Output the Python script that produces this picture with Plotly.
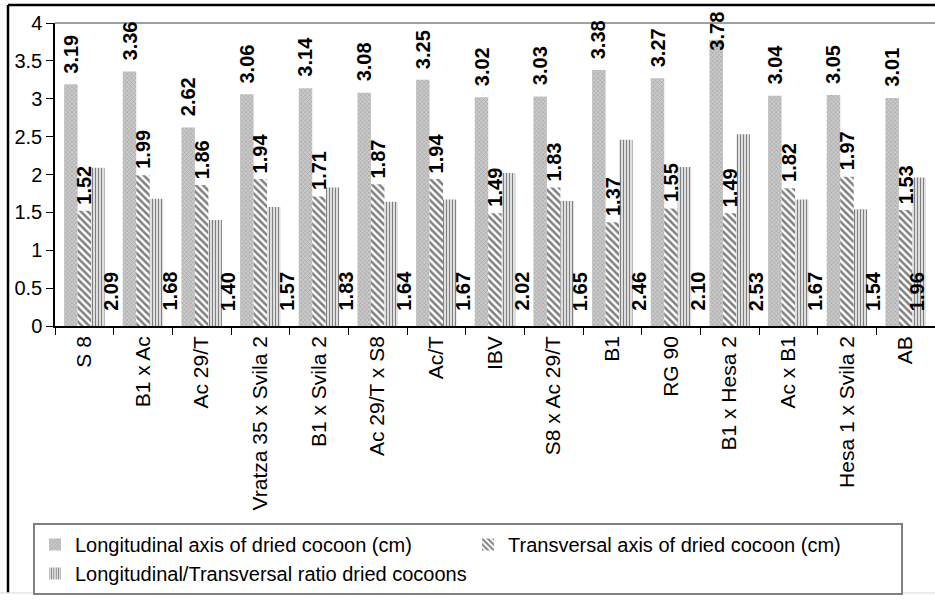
import plotly.graph_objects as go

# Cocoon measurements per breed / hybrid
categories = ["S 8", "B1 x Ac", "Ac 29/T", "Vratza 35 x Svila 2", "B1 x Svila 2",
              "Ac 29/T x S8", "Ac/T", "IBV", "S8 x Ac 29/T", "B1", "RG 90",
              "B1 x Hesa 2", "Ac x B1", "Hesa 1 x Svila 2", "AB"]
longitudinal = [3.19, 3.36, 2.62, 3.06, 3.14, 3.08, 3.25, 3.02, 3.03, 3.38, 3.27,
                3.78, 3.04, 3.05, 3.01]
transversal = [1.52, 1.99, 1.86, 1.94, 1.71, 1.87, 1.94, 1.49, 1.83, 1.37, 1.55,
               1.49, 1.82, 1.97, 1.53]
ratio = [2.09, 1.68, 1.40, 1.57, 1.83, 1.64, 1.67, 2.02, 1.65, 2.46, 2.10,
         2.53, 1.67, 1.54, 1.96]

names = ["Longitudinal axis of dried cocoon (cm)",
         "Transversal axis of dried cocoon (cm)",
         "Longitudinal/Transversal ratio dried cocoons"]
y_ticks = [0, 0.5, 1, 1.5, 2, 2.5, 3, 3.5, 4]

W, H = 935, 601
ML, MR, MT, MB = 55, 0, 23, 275
PW, PH = W - ML - MR, H - MT - MB
Y_MAX = 4
FONT = "Arial, Liberation Sans, sans-serif"


def px_x(px):
    return (px - ML) / PW


def px_y(py):
    return (H - MB - py) / PH


def bar_top_px(v):
    return H - MB - v / Y_MAX * PH


fig = go.Figure()
fig.add_trace(go.Bar(
    x=categories, y=longitudinal, name=names[0],
    marker=dict(color="#b0b0b0", line=dict(width=0),
                pattern=dict(shape="x", fgcolor="#7a7a7a", bgcolor="#cacaca",
                             size=3, solidity=0.35)),
))
fig.add_trace(go.Bar(
    x=categories, y=transversal, name=names[1],
    marker=dict(color="white", line=dict(width=0),
                pattern=dict(shape="\\", fgcolor="black", bgcolor="white",
                             size=5, solidity=0.5)),
))
fig.add_trace(go.Bar(
    x=categories, y=ratio, name=names[2],
    marker=dict(color="white", line=dict(width=0),
                pattern=dict(shape="|", fgcolor="black", bgcolor="white",
                             size=3, solidity=0.5)),
))

# value labels, rotated to read upwards
label_font = dict(family=FONT, size=20, color="black")
LABEL_LEN = 42
annotations = []
for cat, v in zip(categories, longitudinal):
    ann = dict(x=cat, y=v, text=f"<b>{v:.2f}</b>", textangle=-90,
               xref="x", yref="y", showarrow=False, font=label_font,
               xanchor="center", yanchor="bottom", xshift=-13.5, yshift=9)
    # keep the label inside the chart when the bar is close to the top
    if bar_top_px(v) - 9 - LABEL_LEN < 10:
        ann.update(yref="paper", y=px_y(10), yanchor="top", yshift=0)
    annotations.append(ann)
for cat, v in zip(categories, transversal):
    annotations.append(dict(x=cat, y=v, text=f"<b>{v:.2f}</b>", textangle=-90,
                            xref="x", yref="y", showarrow=False, font=label_font,
                            xanchor="center", yanchor="bottom",
                            xshift=0, yshift=4))
for i, (cat, v) in enumerate(zip(categories, ratio)):
    shift = 11 if i == len(categories) - 1 else 26
    annotations.append(dict(x=cat, y=0, text=f"<b>{v:.2f}</b>", textangle=-90,
                            xref="x", yref="y", showarrow=False, font=label_font,
                            xanchor="center", yanchor="bottom",
                            xshift=shift, yshift=13))

shapes = [
    # plot area top edge
    dict(type="line", xref="paper", yref="paper", x0=0, x1=1, y0=1, y1=1,
         line=dict(color="#808080", width=1.5)),
    # chart frame
    dict(type="line", xref="paper", yref="paper", x0=px_x(8), x1=px_x(8),
         y0=px_y(5), y1=px_y(593), line=dict(color="black", width=2.5)),
    dict(type="line", xref="paper", yref="paper", x0=px_x(8), x1=px_x(940),
         y0=px_y(5), y1=px_y(5), line=dict(color="black", width=2.5)),
    dict(type="line", xref="paper", yref="paper", x0=px_x(0), x1=px_x(940),
         y0=px_y(593), y1=px_y(593), line=dict(color="#e4e4e4", width=1.5)),
]

fig.update_layout(
    width=W, height=H,
    margin=dict(l=ML, r=MR, t=MT, b=MB, pad=0),
    paper_bgcolor="white", plot_bgcolor="white",
    font=dict(family=FONT, size=20, color="black"),
    barmode="group", bargap=0.31, bargroupgap=0,
    showlegend=True,
    legend=dict(orientation="h", x=px_x(33), xanchor="left",
                y=px_y(523), yanchor="top",
                entrywidth=388, entrywidthmode="pixels",
                bordercolor="#808080", borderwidth=2, bgcolor="white",
                font=dict(family=FONT, size=20, color="black"),
                itemwidth=30, tracegroupgap=0),
    xaxis=dict(type="category", showline=True, linecolor="black", linewidth=1.5,
               ticks="outside", tickson="boundaries", ticklen=7,
               tickcolor="black", tickwidth=1.2, tickangle=-90,
               showgrid=False, zeroline=False,
               tickfont=dict(family=FONT, size=21, color="black")),
    yaxis=dict(range=[0, Y_MAX], tickvals=y_ticks, showline=True, linecolor="black",
               linewidth=1.5, ticks="outside", ticklen=7, tickcolor="black",
               tickwidth=1.2, showgrid=False, zeroline=False,
               tickfont=dict(family=FONT, size=20, color="black")),
    annotations=annotations,
    shapes=shapes,
)

fig.write_html("out.html")
